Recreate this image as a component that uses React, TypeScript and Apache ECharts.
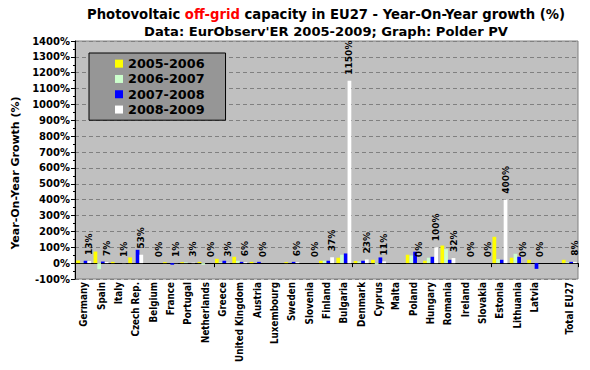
import React, { useEffect, useRef } from "react";
import * as echarts from "echarts";

const categories = ["Germany","Spain","Italy","Czech Rep.","Belgium","France","Portugal","Netherlands","Greece","United Kingdom","Austria","Luxembourg","Sweden","Slovenia","Finland","Bulgaria","Denmark","Cyprus","Malta","Poland","Hungary","Romania","Ireland","Slovakia","Estonia","Lithuania","Latvia","","Total EU27"];
const seriesNames = ["2005-2006", "2006-2007", "2007-2008", "2008-2009"];
const y0506 = [17,73,8,36,0,6,6,8,27,40,8,0,6,0,15,34,13,21,0,53,15,111,0,0,166,34,21,null,21];
const y0607 = [3,-38,0,0,0,0,5,-10,5,15,0,0,0,0,15,53,10,-8,0,48,34,88,0,0,25,59,0,null,5];
const y0708 = [15,10,0,84,0,-10,0,0,15,8,8,0,8,0,15,61,15,36,0,72,40,21,0,0,21,40,-36,null,8];
const y0809 = [13,7,1,53,0,1,3,0,3,6,0,null,6,0,37,1150,23,11,null,0,100,32,0,0,400,0,0,null,8];
const colors = ["#ffff00", "#ccffcc", "#0000ff", "#ffffff"];
const CFONT = "'DejaVu Sans Condensed', 'DejaVu Sans', sans-serif";
const FONT = "'DejaVu Sans', sans-serif";

export default function App() {
  const ref = useRef<HTMLDivElement>(null);
  useEffect(() => {
    if (!ref.current) return;
    const chart = echarts.init(ref.current, null, { renderer: "svg" });
    const all = [y0506, y0607, y0708, y0809];
    chart.setOption({
      animation: false,
      backgroundColor: "#ffffff",
      textStyle: { fontFamily: FONT },
      grid: {
        left: 75, right: 12, top: 41, bottom: 91,
        show: true, backgroundColor: "#c0c0c0", borderColor: "#808080", borderWidth: 1,
      },
      legend: {
        orient: "vertical",
        left: 89, top: 53,
        data: seriesNames,
        icon: "rect",
        itemWidth: 8, itemHeight: 8, itemGap: 0,
        padding: [3, 21, 3, 26],
        backgroundColor: "#969696",
        borderColor: "#000000", borderWidth: 1,
        textStyle: { fontFamily: FONT, fontWeight: "bold", fontSize: 12.8, color: "#000", lineHeight: 15.3 },
      },
      xAxis: [
        {
          type: "category", data: categories, position: "bottom",
          axisLine: { onZero: true, lineStyle: { color: "#000", width: 1 } },
          axisTick: { show: true, length: 4, lineStyle: { color: "#000" } },
          axisLabel: { show: false },
          splitLine: { show: false },
        },
        {
          type: "category", data: categories, position: "bottom",
          axisLine: { show: false, onZero: false },
          axisTick: { show: false },
          axisLabel: {
            show: true, rotate: 90, interval: 0, margin: 3,
            fontFamily: CFONT, fontWeight: "bold", fontSize: 9.8, color: "#000",
          },
        },
      ],
      yAxis: {
        type: "value", min: -100, max: 1400, interval: 100,
        axisLine: { show: true, lineStyle: { color: "#000" } },
        axisTick: { show: true, length: 4, lineStyle: { color: "#000" } },
        minorTick: { show: true, splitNumber: 2, length: 2, lineStyle: { color: "#000" } },
        axisLabel: {
          formatter: (v: number) => v + "%",
          fontFamily: FONT, fontWeight: "bold", fontSize: 10, color: "#000", margin: 5,
        },
        splitLine: { show: true, lineStyle: { color: "#808080", type: [4, 3], width: 1 } },
      },
      series: all.map((d, i) => ({
        name: seriesNames[i],
        type: "bar",
        xAxisIndex: 0,
        data: d,
        barGap: "0%",
        barCategoryGap: "14%",
        itemStyle: { color: colors[i] },
        label: i === 3 ? {
          show: true, position: "top", rotate: 90, distance: 6,
          align: "left", verticalAlign: "middle",
          formatter: (p: any) => p.value + "%",
          fontFamily: FONT, fontWeight: "bold", fontSize: 9, color: "#000",
        } : { show: false },
      })),
      graphic: [
        {
          type: "text", x: 326, y: 14,
          style: {
            text: "{a|Photovoltaic }{r|off-grid}{a| capacity in EU27 - Year-On-Year growth (%)}",
            align: "center", verticalAlign: "middle",
            rich: {
              a: { fontFamily: FONT, fontWeight: "bold", fontSize: 13.2, fill: "#000" },
              r: { fontFamily: FONT, fontWeight: "bold", fontSize: 13.2, fill: "#ff0000" },
            },
          },
        },
        {
          type: "text", x: 326, y: 31,
          style: {
            text: "Data: EurObserv'ER 2005-2009; Graph: Polder PV",
            align: "center", verticalAlign: "middle",
            fontFamily: FONT, fontWeight: "bold", fontSize: 13.1, fill: "#000",
          },
        },
        {
          type: "text", x: 15, y: 173, rotation: Math.PI / 2,
          style: {
            text: "Year-On-Year Growth (%)",
            align: "center", verticalAlign: "middle",
            fontFamily: FONT, fontWeight: "bold", fontSize: 11, fill: "#000",
          },
        },
      ],
    });
    return () => chart.dispose();
  }, []);
  return <div ref={ref} style={{ position: "fixed", left: 0, top: 0, width: 590, height: 370 }} />;
}
